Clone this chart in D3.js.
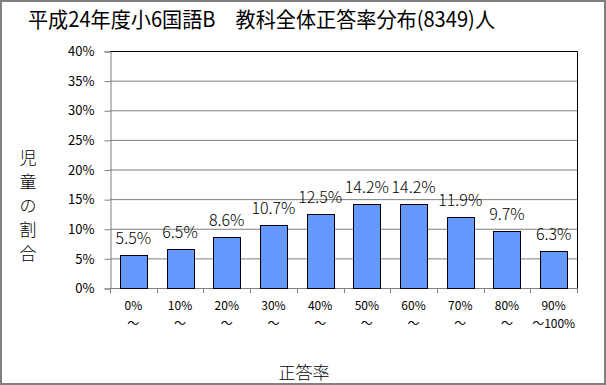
<!DOCTYPE html>
<html lang="ja">
<head>
<meta charset="UTF-8" />
<title>平成24年度小6国語B 教科全体正答率分布</title>
<style>
  body { margin: 0; background: #fff; }
  svg { display: block; font-family: "Noto Sans CJK JP", "DejaVu Sans", sans-serif; }
</style>
</head>
<body>
<div id="chart"></div>
<script src="https://d3js.org/d3.v7.min.js"></script>
<script>
// data
const categories = ["0%", "10%", "20%", "30%", "40%", "50%", "60%", "70%", "80%", "90%"];
const subLabels = ["〜", "〜", "〜", "〜", "〜", "〜", "〜", "〜", "〜", "〜100%"];
const values = [5.5, 6.5, 8.6, 10.7, 12.5, 14.2, 14.2, 11.9, 9.7, 6.3];
const yTicks = [0, 5, 10, 15, 20, 25, 30, 35, 40];

const W = 606, H = 385;
const plot = { left: 110, right: 577, top: 51, bottom: 288 };

const svg = d3.select("#chart").append("svg")
  .attr("width", W).attr("height", H);

// outer border
svg.append("rect")
  .attr("x", 1).attr("y", 1).attr("width", W - 2).attr("height", H - 2)
  .attr("fill", "#fff").attr("stroke", "#808080").attr("stroke-width", 2);

// title
svg.append("text")
  .attr("x", 28).attr("y", 27)
  .attr("font-size", 21)
  .attr("textLength", 467)
  .attr("lengthAdjust", "spacingAndGlyphs")
  .attr("fill", "#000")
  .text("平成24年度小6国語B　教科全体正答率分布(8349)人");

const x = d3.scaleBand()
  .domain(categories)
  .range([plot.left, plot.right])
  .paddingInner(0.42)
  .paddingOuter(0.21);

const y = d3.scaleLinear()
  .domain([0, 40])
  .range([plot.bottom, plot.top]);

// gridlines
svg.append("g")
  .selectAll("line")
  .data(yTicks.slice(1))
  .enter().append("line")
  .attr("x1", plot.left).attr("x2", plot.right)
  .attr("y1", d => y(d) + 0.5).attr("y2", d => y(d) + 0.5)
  .attr("stroke", "#808080").attr("stroke-width", 1);

// plot border (top & right black)
svg.append("path")
  .attr("d", `M${plot.left},${plot.top + 0.5}H${plot.right + 0.5}V${plot.bottom}`)
  .attr("fill", "none").attr("stroke", "#000").attr("stroke-width", 1);

// y axis
const yAxis = svg.append("g")
  .attr("transform", `translate(${plot.left + 0.5},0.5)`)
  .call(d3.axisLeft(y).tickValues(yTicks).tickSize(6).tickPadding(10).tickFormat(d => d + "%"));
yAxis.select(".domain").attr("stroke", "#808080");
yAxis.selectAll(".tick line").attr("stroke", "#808080");
yAxis.selectAll("text")
  .attr("font-size", 13).attr("fill", "#000")
  .attr("font-family", "'Noto Sans CJK JP', sans-serif");

// x axis: ticks at band boundaries
const boundaries = d3.range(categories.length + 1).map(i =>
  plot.left + i * (plot.right - plot.left) / categories.length);
svg.append("line")
  .attr("x1", plot.left).attr("x2", plot.right + 0.5)
  .attr("y1", plot.bottom + 0.5).attr("y2", plot.bottom + 0.5)
  .attr("stroke", "#808080");
svg.append("g")
  .selectAll("line")
  .data(boundaries)
  .enter().append("line")
  .attr("x1", d => Math.round(d) + 0.5).attr("x2", d => Math.round(d) + 0.5)
  .attr("y1", plot.bottom).attr("y2", plot.bottom + 5)
  .attr("stroke", "#808080");

// bars
svg.append("g")
  .selectAll("rect")
  .data(values)
  .enter().append("rect")
  .attr("x", (d, i) => Math.round(x(categories[i])) + 0.5)
  .attr("y", d => Math.round(y(d)) + 0.5)
  .attr("width", Math.round(x.bandwidth()))
  .attr("height", d => plot.bottom - Math.round(y(d)))
  .attr("fill", "#6699ff")
  .attr("stroke", "#000").attr("stroke-width", 1);

// value labels
svg.append("g")
  .selectAll("text")
  .data(values)
  .enter().append("text")
  .attr("x", (d, i) => x(categories[i]) + x.bandwidth() / 2)
  .attr("y", d => y(d) - 11)
  .attr("text-anchor", "middle")
  .attr("font-size", 16)
  .attr("font-weight", 300)
  .attr("fill", "#000")
  .text(d => d.toFixed(1) + "%");

// category labels
const catG = svg.append("g");
catG.selectAll("text.cat")
  .data(categories)
  .enter().append("text")
  .attr("class", "cat")
  .attr("x", d => x(d) + x.bandwidth() / 2)
  .attr("y", 310)
  .attr("text-anchor", "middle")
  .attr("font-size", 12)
  .attr("fill", "#000")
  .text(d => d);
catG.selectAll("text.sub")
  .data(subLabels)
  .enter().append("text")
  .attr("class", "sub")
  .attr("x", (d, i) => x(categories[i]) + x.bandwidth() / 2)
  .attr("y", 328)
  .attr("text-anchor", "middle")
  .attr("font-size", 12)
  .attr("fill", "#000")
  .text(d => d);

// y axis title (vertical, stacked characters)
const yTitle = "児童の割合".split("");
svg.append("g")
  .selectAll("text")
  .data(yTitle)
  .enter().append("text")
  .attr("x", 28)
  .attr("y", (d, i) => 164 + i * 24)
  .attr("text-anchor", "middle")
  .attr("font-size", 17)
  .attr("font-weight", 300)
  .attr("fill", "#000")
  .text(d => d);

// x axis title
svg.append("text")
  .attr("x", 304).attr("y", 379)
  .attr("text-anchor", "middle")
  .attr("font-size", 17)
  .attr("font-weight", 300)
  .attr("fill", "#000")
  .text("正答率");
</script>
</body>
</html>
